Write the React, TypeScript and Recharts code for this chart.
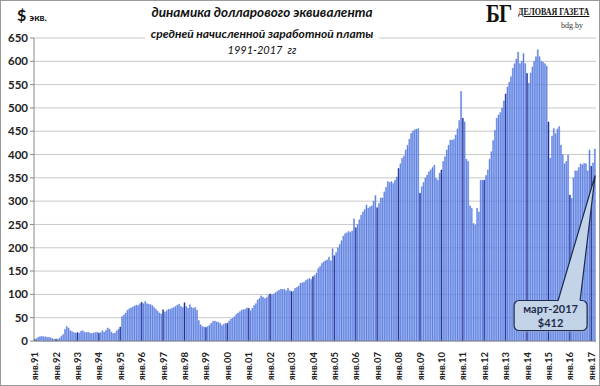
import React from 'react'
import {
  BarChart,
  Bar,
  XAxis,
  YAxis,
  CartesianGrid,
  Cell,
  ReferenceDot,
} from 'recharts'

const monthNames = ['янв', 'фев', 'мар', 'апр', 'май', 'июн', 'июл', 'авг', 'сен', 'окт', 'ноя', 'дек']

const years = [
  91, 92, 93, 94, 95, 96, 97, 98, 99, 0, 1, 2, 3, 4, 5, 6, 7, 8, 9, 10, 11, 12, 13, 14, 15, 16, 17,
]

// средняя зарплата в $ по месяцам, каждый год отдельно
const v1991 = [4, 5, 8, 9, 10, 9, 9, 8, 8, 7, 5, 4]
const v1992 = [4, 4, 6, 10, 14, 25, 31, 28, 22, 20, 18, 17]
const v1993 = [18, 17, 21, 22, 19, 18, 19, 17, 16, 17, 18, 19]
const v1994 = [17, 18, 22, 19, 23, 28, 25, 19, 16, 17, 22, 25]
const v1995 = [30, 52, 56, 60, 66, 69, 71, 73, 75, 77, 76, 80]
const v1996 = [83, 80, 85, 80, 79, 78, 76, 72, 68, 64, 60, 58]
const v1997 = [67, 62, 65, 68, 68, 70, 72, 74, 77, 79, 74, 72]
const v1998 = [82, 74, 70, 78, 72, 70, 72, 66, 44, 35, 31, 30]
const v1999 = [29, 31, 34, 38, 42, 43, 41, 40, 38, 33, 36, 38]
const v2000 = [38, 43, 47, 49, 52, 57, 60, 63, 66, 67, 68, 71]
const v2001 = [70, 65, 70, 76, 80, 88, 91, 97, 94, 91, 93, 98]
const v2002 = [101, 99, 101, 104, 106, 109, 111, 111, 111, 108, 113, 108]
const v2003 = [106, 107, 113, 115, 118, 124, 125, 126, 130, 132, 134, 132]
const v2004 = [138, 141, 146, 156, 160, 166, 170, 172, 174, 180, 172, 198]
const v2005 = [183, 190, 200, 207, 215, 225, 230, 232, 235, 233, 236, 262]
const v2006 = [243, 250, 260, 270, 277, 282, 292, 285, 288, 290, 300, 312]
const v2007 = [286, 295, 307, 307, 320, 330, 342, 340, 342, 338, 345, 352]
const v2008 = [370, 380, 392, 397, 410, 420, 433, 445, 450, 453, 454, 456]
const v2009 = [317, 331, 340, 350, 356, 363, 367, 372, 377, 349, 345, 360]
const v2010 = [367, 385, 395, 410, 420, 431, 431, 432, 442, 455, 473, 535]
const v2011 = [478, 470, 390, 385, 290, 285, 252, 249, 285, 277, 345, 345]
const v2012 = [345, 355, 367, 390, 406, 430, 452, 478, 485, 490, 500, 515]
const v2013 = [530, 545, 555, 567, 585, 595, 605, 620, 595, 600, 617, 595]
const v2014 = [574, 553, 575, 588, 600, 610, 625, 610, 600, 598, 595, 590]
const v2015 = [470, 392, 440, 456, 445, 455, 460, 420, 400, 380, 385, 399]
const v2016 = [313, 306, 350, 365, 365, 372, 380, 378, 381, 380, 365, 410]
const v2017 = [375, 382, 412]

const yTicks = [0, 50, 100, 150, 200, 250, 300, 350, 400, 450, 500, 550, 600, 650]

const calloutLabel = 'март-2017'
const calloutValue = '$412'
const calloutPointAt = 355

const allYears = [
  v1991, v1992, v1993, v1994, v1995, v1996, v1997, v1998, v1999, v2000, v2001, v2002, v2003, v2004,
  v2005, v2006, v2007, v2008, v2009, v2010, v2011, v2012, v2013, v2014, v2015, v2016, v2017,
]

const data = allYears.flatMap((vals, yi) =>
  vals.map((v, mi) => ({
    month: `${monthNames[mi]}.${String(years[yi]).padStart(2, '0')}`,
    value: v,
    jan: mi === 0,
  }))
)

const font = 'Lato, "Open Sans", sans-serif'
const barColor = '#5e80e2'
const janColor = '#1d3199'

const XTick = (props: any) => {
  const { x, y, payload } = props
  const ty = y + 3
  return (
    <text
      x={x}
      y={ty}
      transform={`rotate(-90, ${x}, ${ty})`}
      textAnchor="end"
      dy="0.35em"
      fontSize={9.5}
      fontWeight={700}
      fontFamily={font}
      fill="#222"
    >
      {payload.value}
    </text>
  )
}

const Callout = (props: any) => {
  const { cx, cy } = props
  const bx = cx - 81
  const by = cy + 125
  return (
    <g>
      <rect x={bx + 2} y={by + 2} width={73} height={30} rx={5} fill="#9aa6b8" opacity={0.5} />
      <rect x={bx} y={by} width={73} height={30} rx={5} fill="#c3d3e8" stroke="#1d2c4c" strokeWidth={1.2} />
      <polygon points={`${cx - 37},${by + 0.8} ${cx},${cy} ${cx - 15},${by + 0.8}`} fill="#c3d3e8" />
      <path d={`M${cx - 37},${by} L${cx},${cy} L${cx - 15},${by}`} fill="none" stroke="#1d2c4c" strokeWidth={1.2} />
      <text x={bx + 36.5} y={by + 12} textAnchor="middle" fontSize={11} fontWeight={700} fontFamily={font} fill="#1f2d4a">
        {calloutLabel}
      </text>
      <text x={bx + 36.5} y={by + 26} textAnchor="middle" fontSize={11} fontWeight={700} fontFamily={font} fill="#1f2d4a">
        {calloutValue}
      </text>
    </g>
  )
}

export default function App() {
  return (
    <div
      style={{
        position: 'absolute',
        left: 0,
        top: 0,
        width: 600,
        height: 386,
        background: '#fff',
        fontFamily: font,
      }}
    >
      <BarChart
        width={600}
        height={386}
        data={data}
        margin={{ top: 38, right: 4, left: 0, bottom: 0 }}
        barCategoryGap="8%"
      >
        <CartesianGrid vertical={false} stroke="#c9c9c9" />
        <XAxis
          dataKey="month"
          interval={11}
          tick={<XTick />}
          tickLine={false}
          axisLine={{ stroke: '#8a8a8a' }}
          height={45}
        />
        <YAxis
          domain={[0, 650]}
          ticks={yTicks}
          width={34}
          tickSize={4}
          tickLine={{ stroke: '#8a8a8a' }}
          axisLine={{ stroke: '#8a8a8a' }}
          tick={{ fontSize: 11.5, fontWeight: 700, fill: '#222', fontFamily: font }}
          interval={0}
        />
        <Bar dataKey="value" fill={barColor} isAnimationActive={false}>
          {data.map((d) => (
            <Cell
              key={d.month}
              fill={d.jan ? janColor : barColor}
              stroke={d.jan ? janColor : barColor}
              strokeWidth={0.5}
            />
          ))}
        </Bar>
        <ReferenceDot
          x={data[data.length - 1].month}
          y={calloutPointAt}
          ifOverflow="visible"
          shape={<Callout />}
        />
      </BarChart>

      {/* заголовок */}
      <div
        style={{
          position: 'absolute',
          left: 0,
          width: 524,
          top: 4,
          textAlign: 'center',
          fontSize: 13.5,
          fontWeight: 700,
          fontStyle: 'italic',
          color: '#111',
        }}
      >
        динамика долларового эквивалента
      </div>
      <div style={{ position: 'absolute', left: 0, width: 524, top: 25, textAlign: 'center', lineHeight: '14px' }}>
        <span
          style={{
            background: '#fff',
            padding: '0 6px',
            fontSize: 12,
            fontWeight: 700,
            fontStyle: 'italic',
            color: '#111',
          }}
        >
          средней начисленной заработной платы
        </span>
      </div>
      <div
        style={{
          position: 'absolute',
          left: 0,
          width: 524,
          top: 43,
          textAlign: 'center',
          fontSize: 11,
          fontStyle: 'italic',
          color: '#111',
        }}
      >
        1991-2017&nbsp;&nbsp;гг
      </div>

      <div style={{ position: 'absolute', left: 17, top: 5, color: '#111', fontWeight: 700 }}>
        <span style={{ fontSize: 16 }}>$</span>
        <span style={{ fontSize: 10, marginLeft: 3 }}>экв.</span>
      </div>

      {/* логотип */}
      <div
        style={{
          position: 'absolute',
          left: 486,
          top: -1,
          fontFamily: '"Liberation Serif", "DejaVu Serif", serif',
          fontWeight: 700,
          fontSize: 26,
          color: '#111',
          transform: 'scaleX(0.8)',
          transformOrigin: 'left',
          letterSpacing: -1,
        }}
      >
        БГ
      </div>
      <div
        style={{
          position: 'absolute',
          left: 518,
          top: 6,
          fontFamily: '"Liberation Serif", "DejaVu Serif", serif',
          fontWeight: 700,
          fontSize: 10,
          color: '#111',
          textDecoration: 'underline',
          transform: 'scaleX(0.8)',
          transformOrigin: 'left',
          whiteSpace: 'nowrap',
        }}
      >
        ДЕЛОВАЯ ГАЗЕТА
      </div>
      <div
        style={{
          position: 'absolute',
          left: 561,
          top: 21,
          fontFamily: '"Liberation Serif", "DejaVu Serif", serif',
          fontSize: 8,
          color: '#333',
        }}
      >
        bdg.by
      </div>

      <div
        style={{
          position: 'absolute',
          left: 0,
          top: 0,
          width: 598,
          height: 384,
          border: '1px solid #9a9a9a',
          pointerEvents: 'none',
        }}
      />
    </div>
  )
}
